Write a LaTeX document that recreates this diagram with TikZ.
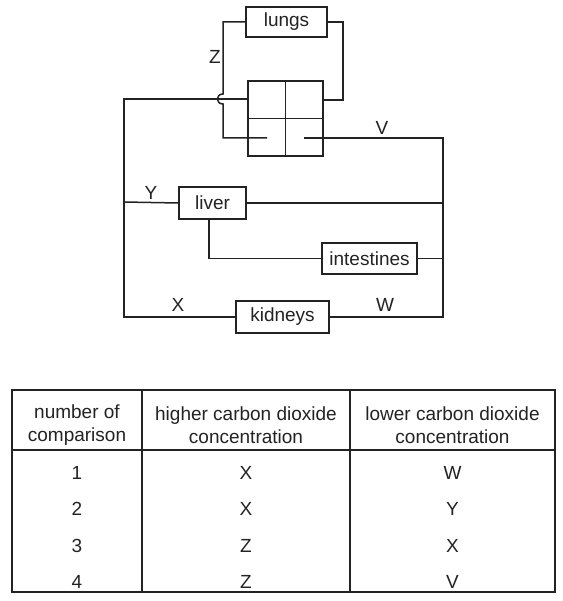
\documentclass[tikz,border=0pt]{standalone}
\usepackage{fontspec}
\setmainfont{Liberation Sans}
\definecolor{ink}{RGB}{35,35,35}
\begin{document}
\begin{tikzpicture}[x=1pt,y=-1pt,
  organ/.style={draw=ink, line width=1.5pt, inner sep=0pt, font=\fontsize{19}{22}\selectfont, text=ink},
  wire/.style={draw=ink, line width=1.5pt, line join=miter},
  lbl/.style={inner sep=0pt, font=\fontsize{19}{22}\selectfont, text=ink},
  cell/.style={inner sep=0pt, align=center, font=\fontsize{19}{23}\selectfont, text=ink}]
\useasboundingbox[fill=white] (0,0) rectangle (562,601);

% organs
\node[organ, minimum width=81pt, minimum height=30pt] (lungs) at (286.5,22) {lungs};
\node[organ, minimum width=67pt, minimum height=32pt] (liver) at (212.5,203) {liver};
\node[organ, minimum width=95pt, minimum height=31pt] (intestines) at (369.5,258.5) {intestines};
\node[organ, minimum width=93pt, minimum height=32pt] (kidneys) at (282.5,317) {kidneys};
\node[draw=ink, line width=1.5pt, minimum width=75pt, minimum height=75pt, inner sep=0pt] (heart) at (285.5,118.5) {};
\draw[ink, line width=1.4pt] (heart.north) -- (heart.south);
\draw[ink, line width=1.4pt] (heart.west) -- (heart.east);

% coordinates
\coordinate (zL) at (267,138);
\coordinate (vL) at (304,138);
\coordinate (hL) at (248,99);
\coordinate (hR) at (323,100);
\coordinate (hopT) at (223,94);
\coordinate (hopB) at (223,104);

% pulmonary loop
\draw[wire] (lungs.west) -| (hopT) .. controls (215.5,94) and (215.5,104) .. (hopB) |- (zL);
\draw[wire] (lungs.east) -- (343,22) |- (hR);

% body loop
\draw[wire] (hL) -- (124,99) |- (kidneys.west);
\draw[wire] (124,202) -- (liver.west);
\draw[wire] (vL) -- (443,138) |- (kidneys.east);
\draw[wire] (liver.east) -- (443,203);
\draw[wire] (209,219) |- (intestines.west);
\draw[wire] (intestines.east) -- (443,258.5);

% labels
\node[lbl] (Z) at (215,57) {Z};
\node[lbl] (V) at (382,128) {V};
\node[lbl] (Y) at (151,193) {Y};
\node[lbl] (X) at (178,305) {X};
\node[lbl] (W) at (385,305) {W};

% table
\draw[ink, line width=1.4pt] (12,390) rectangle (555,592);
\draw[ink, line width=1.4pt] (12,450) -- (555,450);
\draw[ink, line width=1.4pt] (142,390) -- (142,592);
\draw[ink, line width=1.4pt] (350,390) -- (350,592);

\node[cell] (h1) at (77,425.5) {number of\\comparison};
\node[cell] (h2) at (246,425.5) {higher carbon dioxide\\concentration};
\node[cell] (h3) at (452.5,425.5) {lower carbon dioxide\\concentration};

\node[cell] (r1a) at (77,473) {1};
\node[cell] (r1b) at (246,473) {X};
\node[cell] (r1c) at (452.5,473) {W};
\node[cell] (r2a) at (77,509) {2};
\node[cell] (r2b) at (246,509) {X};
\node[cell] (r2c) at (452.5,509) {Y};
\node[cell] (r3a) at (77,546) {3};
\node[cell] (r3b) at (246,546) {Z};
\node[cell] (r3c) at (452.5,546) {X};
\node[cell] (r4a) at (77,582) {4};
\node[cell] (r4b) at (246,582) {Z};
\node[cell] (r4c) at (452.5,582) {V};
\end{tikzpicture}
\end{document}
